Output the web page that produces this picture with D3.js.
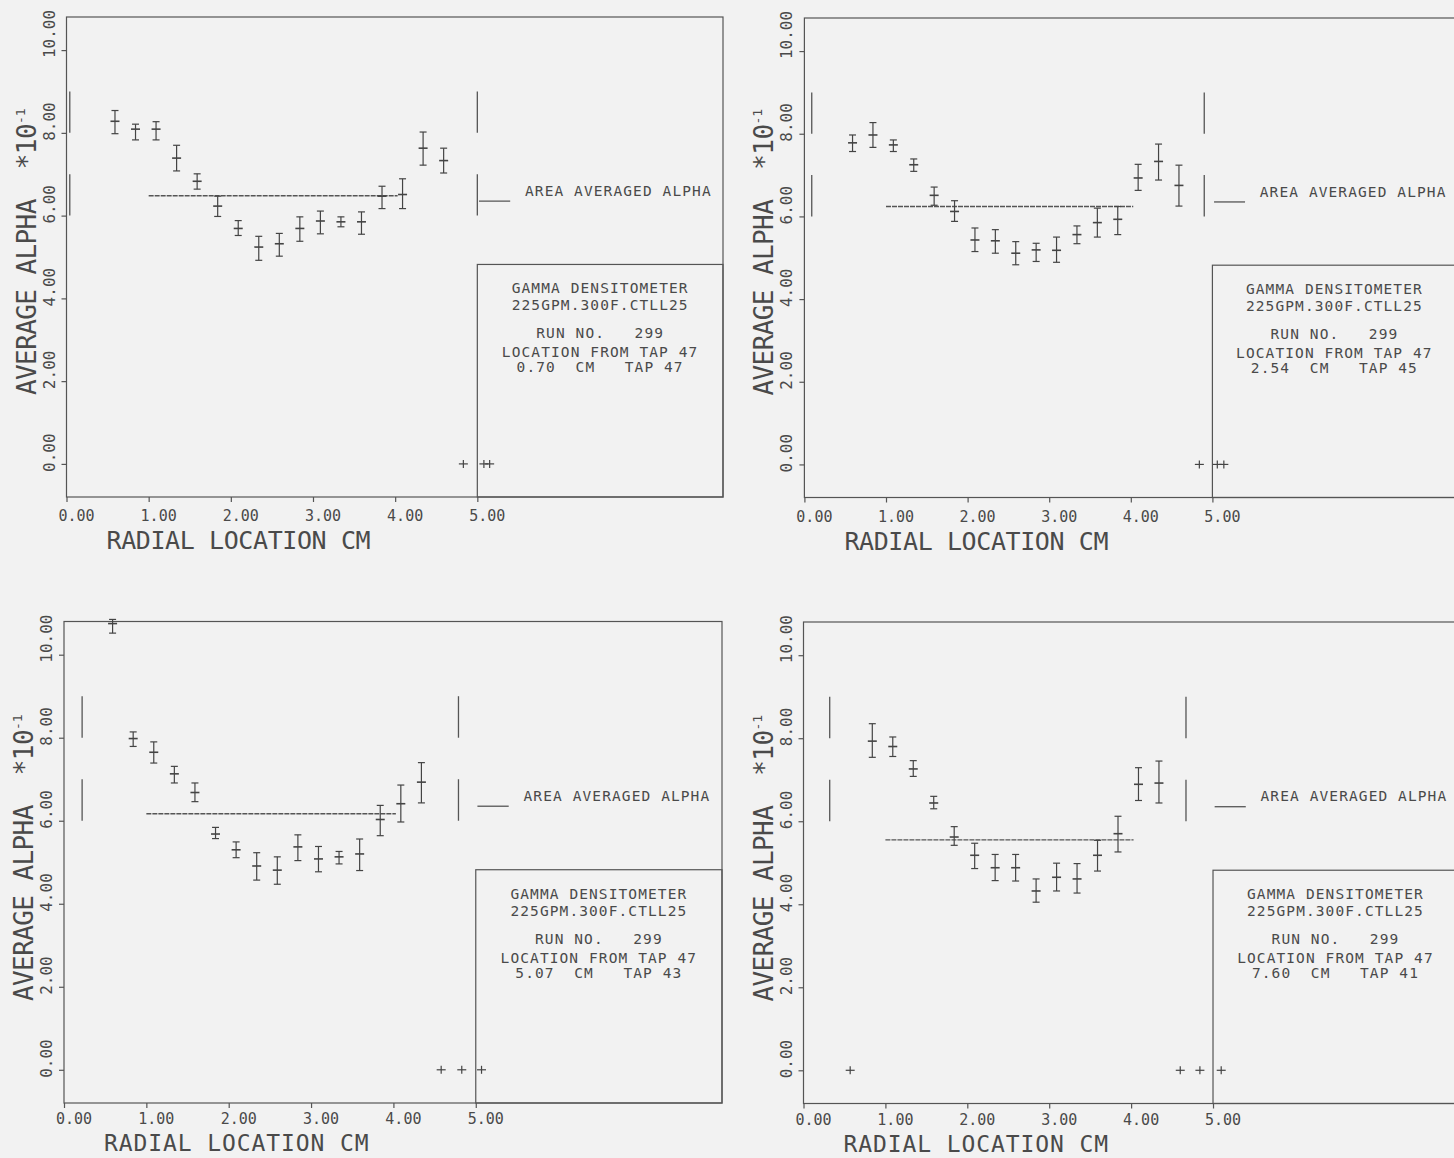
<!DOCTYPE html>
<html><head><meta charset="utf-8">
<script src="https://cdn.jsdelivr.net/npm/d3@7/dist/d3.min.js"></script>
<style>
html,body{margin:0;padding:0;background:#f2f2f2;}
svg{display:block;}
text{font-family:"DejaVu Sans Mono","Liberation Mono",monospace;fill:#4a4a4a;}
</style></head><body>
<svg id="chart" width="1454" height="1158"></svg>
<script>
// ---------- shared texts / ticks ----------
const xTickValues = [0, 1, 2, 3, 4, 5];
const xTickLabels = ["0.00", "1.00", "2.00", "3.00", "4.00", "5.00"];
const yTickValues = [0, 2, 4, 6, 8, 10];
const yTickLabels = ["0.00", "2.00", "4.00", "6.00", "8.00", "10.00"];
const xTitle = "RADIAL LOCATION CM";
const yTitle = "AVERAGE ALPHA  *10";
const yTitleExp = "-1";
const legendLabel = "AREA AVERAGED ALPHA";
const boxHeader = ["GAMMA DENSITOMETER", "225GPM.300F.CTLL25", "RUN NO.   299", "LOCATION FROM TAP 47"];
const locationLines = ["0.70  CM   TAP 47", "2.54  CM   TAP 45", "5.07  CM   TAP 43", "7.60  CM   TAP 41"];

// ---------- panel 1 (0.70 cm, tap 47) ----------
const p1Radius = [0.59, 0.84, 1.09, 1.34, 1.59, 1.84, 2.09, 2.34, 2.59, 2.84, 3.09, 3.34, 3.59, 3.84, 4.09, 4.34, 4.59];
const p1Alpha  = [8.28, 8.09, 8.09, 7.39, 6.83, 6.23, 5.69, 5.24, 5.32, 5.69, 5.87, 5.85, 5.85, 6.47, 6.51, 7.63, 7.33];
const p1Low    = [7.98, 7.83, 7.83, 7.08, 6.64, 5.98, 5.52, 4.92, 5.02, 5.38, 5.56, 5.73, 5.55, 6.17, 6.17, 7.22, 7.03];
const p1High   = [8.54, 8.21, 8.27, 7.70, 7.01, 6.47, 5.88, 5.50, 5.57, 5.97, 6.11, 5.97, 6.09, 6.71, 6.89, 8.02, 7.63];
const p1Zero   = [4.83, 5.08, 5.15];
const p1AreaAvg = 6.48;
const p1Walls  = [0.04, 5.00];

// ---------- panel 2 (2.54 cm, tap 45) ----------
const p2Radius = [0.59, 0.84, 1.09, 1.34, 1.59, 1.84, 2.09, 2.34, 2.59, 2.84, 3.09, 3.34, 3.59, 3.84, 4.09, 4.34, 4.59];
const p2Alpha  = [7.78, 7.97, 7.73, 7.25, 6.51, 6.12, 5.43, 5.41, 5.11, 5.19, 5.18, 5.56, 5.85, 5.93, 6.93, 7.33, 6.75];
const p2Low    = [7.57, 7.67, 7.57, 7.09, 6.27, 5.88, 5.15, 5.11, 4.83, 4.91, 4.89, 5.34, 5.50, 5.56, 6.63, 6.88, 6.25];
const p2High   = [7.97, 8.27, 7.85, 7.39, 6.71, 6.38, 5.72, 5.68, 5.39, 5.35, 5.50, 5.77, 6.20, 6.24, 7.26, 7.75, 7.24];
const p2Zero   = [4.84, 5.06, 5.14];
const p2AreaAvg = 6.24;
const p2Walls  = [0.09, 4.90];

// ---------- panel 3 (5.07 cm, tap 43) ----------
const p3Radius = [0.59, 0.84, 1.09, 1.34, 1.59, 1.84, 2.09, 2.34, 2.59, 2.84, 3.09, 3.34, 3.59, 3.84, 4.09, 4.34];
const p3Alpha  = [10.75, 7.98, 7.65, 7.13, 6.68, 5.68, 5.30, 4.91, 4.81, 5.37, 5.08, 5.13, 5.20, 6.03, 6.41, 6.93];
const p3Low    = [10.52, 7.79, 7.39, 6.91, 6.46, 5.57, 5.11, 4.57, 4.47, 5.04, 4.77, 4.96, 4.80, 5.64, 5.97, 6.43];
const p3High   = [10.85, 8.14, 7.90, 7.31, 6.91, 5.84, 5.49, 5.23, 5.13, 5.66, 5.38, 5.26, 5.56, 6.37, 6.86, 7.40];
const p3Zero   = [4.58, 4.83, 5.07];
const p3AreaAvg = 6.17;
const p3Walls  = [0.22, 4.79];

// ---------- panel 4 (7.60 cm, tap 41) ----------
const p4Radius = [0.84, 1.09, 1.34, 1.59, 1.84, 2.09, 2.34, 2.59, 2.84, 3.09, 3.34, 3.59, 3.84, 4.09, 4.34];
const p4Alpha  = [7.93, 7.80, 7.26, 6.44, 5.62, 5.18, 4.88, 4.88, 4.32, 4.65, 4.61, 5.18, 5.70, 6.89, 6.92];
const p4Low    = [7.54, 7.56, 7.08, 6.30, 5.42, 4.86, 4.57, 4.56, 4.05, 4.32, 4.27, 4.80, 5.26, 6.50, 6.44];
const p4High   = [8.35, 8.03, 7.46, 6.60, 5.87, 5.47, 5.20, 5.20, 4.61, 4.99, 4.98, 5.54, 6.12, 7.29, 7.45];
const p4Zero   = [0.57, 4.60, 4.84, 5.10];
const p4AreaAvg = 5.55;
const p4Walls  = [0.32, 4.67];

// ---------- assemble ----------
const panels = [
  {r: p1Radius, a: p1Alpha, lo: p1Low, hi: p1High, zero: p1Zero, avg: p1AreaAvg, walls: p1Walls, loc: locationLines[0],
   left: 66.5, right: 723, top: 17, bottom: 497, tickOff: 24, titleOff: 52, titleSize: 25, titleSpacing: -0.4},
  {r: p2Radius, a: p2Alpha, lo: p2Low, hi: p2High, zero: p2Zero, avg: p2AreaAvg, walls: p2Walls, loc: locationLines[1],
   left: 804.4, right: 1456.4, top: 18, bottom: 497.5, tickOff: 24, titleOff: 52, titleSize: 25, titleSpacing: -0.4},
  {r: p3Radius, a: p3Alpha, lo: p3Low, hi: p3High, zero: p3Zero, avg: p3AreaAvg, walls: p3Walls, loc: locationLines[2],
   left: 64, right: 722, top: 621.5, bottom: 1103, tickOff: 21, titleOff: 48, titleSize: 23, titleSpacing: 0.9},
  {r: p4Radius, a: p4Alpha, lo: p4Low, hi: p4High, zero: p4Zero, avg: p4AreaAvg, walls: p4Walls, loc: locationLines[3],
   left: 803.5, right: 1457.9, top: 622, bottom: 1103.5, tickOff: 21, titleOff: 48, titleSize: 23, titleSpacing: 0.9}
];

const ink = "#555";
const svg = d3.select("#chart");
svg.append("rect").attr("width", 1454).attr("height", 1158).attr("fill", "#f2f2f2");

panels.forEach(p => {
  const x = d3.scaleLinear().domain([0, 7.99]).range([p.left, p.right]);
  const y = d3.scaleLinear().domain([-0.8, 10.8]).range([p.bottom, p.top]);
  const g = svg.append("g");

  // frame
  g.append("rect").attr("x", p.left).attr("y", p.top)
    .attr("width", p.right - p.left).attr("height", p.bottom - p.top)
    .attr("fill", "none").attr("stroke", ink).attr("stroke-width", 1.2);

  // x axis ticks + labels
  const xAxis = d3.axisBottom(x).tickValues(xTickValues).tickSize(5).tickFormat(() => "");
  const xa = g.append("g").attr("transform", `translate(0,${p.bottom})`).call(xAxis);
  xa.select(".domain").remove();
  xa.selectAll("line").attr("stroke", ink).attr("stroke-width", 1.2);
  g.selectAll(".xlab").data(xTickValues).enter().append("text")
    .attr("x", d => x(d) + 10).attr("y", p.bottom + p.tickOff)
    .attr("text-anchor", "middle").attr("font-size", 15).attr("fill", "#3c3c3c")
    .text((d, i) => xTickLabels[i]);

  // y axis ticks + rotated labels
  const yAxis = d3.axisLeft(y).tickValues(yTickValues).tickSize(5).tickFormat(() => "");
  const ya = g.append("g").attr("transform", `translate(${p.left},0)`).call(yAxis);
  ya.select(".domain").remove();
  ya.selectAll("line").attr("stroke", ink).attr("stroke-width", 1.2);
  g.selectAll(".ylab").data(yTickValues).enter().append("text")
    .attr("transform", d => `translate(${p.left - 12},${y(d) + 8}) rotate(-90)`)
    .attr("text-anchor", "start").attr("font-size", 16).attr("fill", "#3c3c3c")
    .text((d, i) => yTickLabels[i]);

  // axis titles
  g.append("text").attr("x", p.left + 40).attr("y", p.bottom + p.titleOff)
    .attr("font-size", p.titleSize).attr("letter-spacing", p.titleSpacing).attr("fill", "#777")
    .text(xTitle);
  const yt = g.append("text")
    .attr("transform", `translate(${p.left - 31},${p.bottom - 102}) rotate(-90)`)
    .attr("font-size", 26).attr("letter-spacing", -0.6).attr("fill", "#777")
    .attr("xml:space", "preserve").style("white-space", "pre");
  yt.append("tspan").text(yTitle);
  yt.append("tspan").attr("dy", -11).attr("font-size", 13).attr("letter-spacing", 0).text(yTitleExp);

  // wall markers (vertical segments 6-7 and 8-9)
  const wallSegs = [];
  p.walls.forEach(w => { wallSegs.push({w, a: 6, b: 7}); wallSegs.push({w, a: 8, b: 9}); });
  g.selectAll(".wall").data(wallSegs).enter().append("line")
    .attr("x1", d => x(d.w)).attr("x2", d => x(d.w))
    .attr("y1", d => y(d.a)).attr("y2", d => y(d.b))
    .attr("stroke", ink).attr("stroke-width", 1.3);

  // area averaged line
  g.append("line").attr("x1", x(1.0)).attr("x2", x(4.03))
    .attr("y1", y(p.avg)).attr("y2", y(p.avg))
    .attr("stroke", ink).attr("stroke-width", 1.4).attr("stroke-dasharray", "5,1");

  // legend
  g.append("line").attr("x1", x(5.02)).attr("x2", x(5.40))
    .attr("y1", y(6.35)).attr("y2", y(6.35))
    .attr("stroke", ink).attr("stroke-width", 1.3);
  g.append("text").attr("x", x(5.58)).attr("y", y(6.48))
    .attr("font-size", 14.5).attr("letter-spacing", 1.1).attr("fill", "#3c3c3c")
    .text(legendLabel);

  // info box
  const boxTop = y(4.82);
  g.append("rect").attr("x", x(5)).attr("y", boxTop)
    .attr("width", p.right - x(5)).attr("height", p.bottom - boxTop)
    .attr("fill", "none").attr("stroke", ink).attr("stroke-width", 1.2);
  const boxLines = boxHeader.concat([p.loc]);
  const offs = [29, 46, 74, 93, 108];
  const cx = (x(5) + x(7.99)) / 2;
  g.selectAll(".box").data(boxLines).enter().append("text")
    .attr("x", cx).attr("y", (d, i) => boxTop + offs[i])
    .attr("text-anchor", "middle").attr("font-size", 14.5).attr("letter-spacing", 1.1)
    .attr("fill", "#3c3c3c").attr("xml:space", "preserve").style("white-space", "pre")
    .text(d => d);

  // error bars
  const pts = p.r.map((r, i) => ({r, a: p.a[i], lo: p.lo[i], hi: p.hi[i]}));
  const eb = g.selectAll(".eb").data(pts).enter().append("g")
    .attr("stroke", "#444").attr("stroke-width", 1.2);
  eb.append("line").attr("x1", d => x(d.r)).attr("x2", d => x(d.r))
    .attr("y1", d => y(d.lo)).attr("y2", d => y(d.hi));
  eb.append("line").attr("x1", d => x(d.r) - 3.5).attr("x2", d => x(d.r) + 3.5)
    .attr("y1", d => y(d.hi)).attr("y2", d => y(d.hi));
  eb.append("line").attr("x1", d => x(d.r) - 3.5).attr("x2", d => x(d.r) + 3.5)
    .attr("y1", d => y(d.lo)).attr("y2", d => y(d.lo));
  eb.append("line").attr("x1", d => x(d.r) - 4.5).attr("x2", d => x(d.r) + 4.5)
    .attr("y1", d => y(d.a)).attr("y2", d => y(d.a)).attr("stroke-width", 1.6);

  // zero points (plus markers)
  const zp = g.selectAll(".zp").data(p.zero).enter().append("g")
    .attr("stroke", "#444").attr("stroke-width", 1.2);
  zp.append("line").attr("x1", d => x(d) - 4.5).attr("x2", d => x(d) + 4.5)
    .attr("y1", y(0)).attr("y2", y(0));
  zp.append("line").attr("x1", d => x(d)).attr("x2", d => x(d))
    .attr("y1", y(0) - 4).attr("y2", y(0) + 4);
});
</script>
</body></html>
